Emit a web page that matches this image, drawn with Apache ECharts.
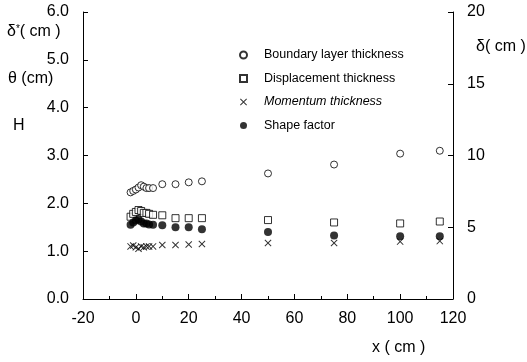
<!DOCTYPE html>
<html>
<head>
<meta charset="utf-8">
<script src="https://cdn.jsdelivr.net/npm/echarts@6/dist/echarts.min.js"></script>
<style>
  html, body { margin: 0; padding: 0; background: #fff; }
  #chart { width: 527px; height: 362px; }
</style>
</head>
<body>
<div id="chart"></div>
<script>
// streamwise positions (cm)
const xPos = [-2, -1, 0, 1, 2, 3, 4, 5, 6.5, 10, 15, 20, 25, 50, 75, 100, 115]

// boundary layer thickness, right axis (cm)
const blThickness = [7.43, 7.53, 7.63, 7.77, 7.93, 7.83, 7.73, 7.73, 7.73, 8.0, 8.0, 8.13, 8.2, 8.75, 9.37, 10.13, 10.33]
// left axis series
const dispThickness = [1.72, 1.78, 1.82, 1.86, 1.84, 1.8, 1.8, 1.78, 1.76, 1.75, 1.69, 1.69, 1.69, 1.65, 1.6, 1.58, 1.62]
const momThickness = [1.1, 1.12, 1.08, 1.05, 1.1, 1.08, 1.1, 1.1, 1.1, 1.13, 1.13, 1.14, 1.15, 1.17, 1.17, 1.2, 1.21]
const shapeFactor = [1.55, 1.6, 1.64, 1.66, 1.62, 1.58, 1.58, 1.56, 1.55, 1.54, 1.5, 1.5, 1.46, 1.4, 1.33, 1.31, 1.31]

const seriesNames = ["Boundary layer thickness", "Displacement thickness", "Momentum thickness", "Shape factor"]

const pairs = (ys) => xPos.map((x, i) => [x, ys[i]])

const font = "Liberation Sans"
const crossPath = "path://M1,0L5,4L9,0L10,1L6,5L10,9L9,10L5,6L1,10L0,9L4,5L0,1Z"

const chart = echarts.init(document.getElementById("chart"))

const axisCommon = {
  axisLine: { show: true, onZero: false, lineStyle: { color: "#000", width: 1 } },
  axisTick: { show: true, inside: true, length: 5, lineStyle: { color: "#000" } },
  axisLabel: { color: "#000", fontSize: 16, fontFamily: font },
  splitLine: { show: false },
}

const option = {
  backgroundColor: "#fff",
  animation: false,
  grid: { left: 83, right: 74, top: 12, bottom: 63 },
  legend: {
    orient: "vertical",
    left: 234,
    top: 43,
    itemWidth: 7,
    itemHeight: 7,
    itemGap: 9.5,
    textStyle: { fontSize: 12.5, fontFamily: font, color: "#000", lineHeight: 14, padding: [0, 0, 0, 12] },
    data: [
      { name: seriesNames[0] },
      { name: seriesNames[1] },
      { name: seriesNames[2], textStyle: { fontStyle: "italic" } },
      { name: seriesNames[3] },
    ],
  },
  xAxis: {
    ...axisCommon,
    type: "value",
    min: -20,
    max: 120,
    interval: 20,
    minorTick: { show: true, splitNumber: 2, length: 3, lineStyle: { color: "#000" } },
    axisLabel: { ...axisCommon.axisLabel, margin: 12 },
  },
  yAxis: [
    {
      ...axisCommon,
      type: "value",
      min: 0,
      max: 6,
      interval: 1,
      axisLabel: { ...axisCommon.axisLabel, margin: 14, formatter: (v) => v.toFixed(1) },
    },
    {
      ...axisCommon,
      type: "value",
      position: "right",
      min: 0,
      max: 20,
      interval: 5,
      axisLabel: { ...axisCommon.axisLabel, margin: 14 },
    },
  ],
  series: [
    {
      name: seriesNames[0],
      type: "scatter",
      yAxisIndex: 1,
      symbol: "circle",
      symbolSize: 7,
      itemStyle: { color: "#fff", borderColor: "#000", borderWidth: 1 },
      data: pairs(blThickness),
    },
    {
      name: seriesNames[1],
      type: "scatter",
      symbol: "rect",
      symbolSize: 7,
      itemStyle: { color: "#fff", borderColor: "#000", borderWidth: 1 },
      data: pairs(dispThickness),
    },
    {
      name: seriesNames[2],
      type: "scatter",
      symbol: crossPath,
      symbolSize: 7,
      itemStyle: { color: "#000" },
      data: pairs(momThickness),
    },
    {
      name: seriesNames[3],
      type: "scatter",
      symbol: "circle",
      symbolSize: 8,
      itemStyle: { color: "#000" },
      data: pairs(shapeFactor),
    },
  ],
  graphic: [
    {
      type: "text",
      left: 7,
      top: 24,
      style: {
        text: "δ{s|*}( cm )",
        font: `16px "${font}"`,
        fill: "#000",
        rich: { s: { fontSize: 10, verticalAlign: "top", fontFamily: font } },
      },
    },
    { type: "text", left: 8, top: 71, style: { text: "θ (cm)", font: `16px "${font}"`, fill: "#000" } },
    { type: "text", left: 13, top: 118, style: { text: "H", font: `16px "${font}"`, fill: "#000" } },
    { type: "text", left: 476, top: 39, style: { text: "δ( cm )", font: `16px "${font}"`, fill: "#000" } },
    { type: "text", left: 372, top: 340, style: { text: "x ( cm )", font: `16px "${font}"`, fill: "#000" } },
  ],
}

chart.setOption(option)
</script>
</body>
</html>
